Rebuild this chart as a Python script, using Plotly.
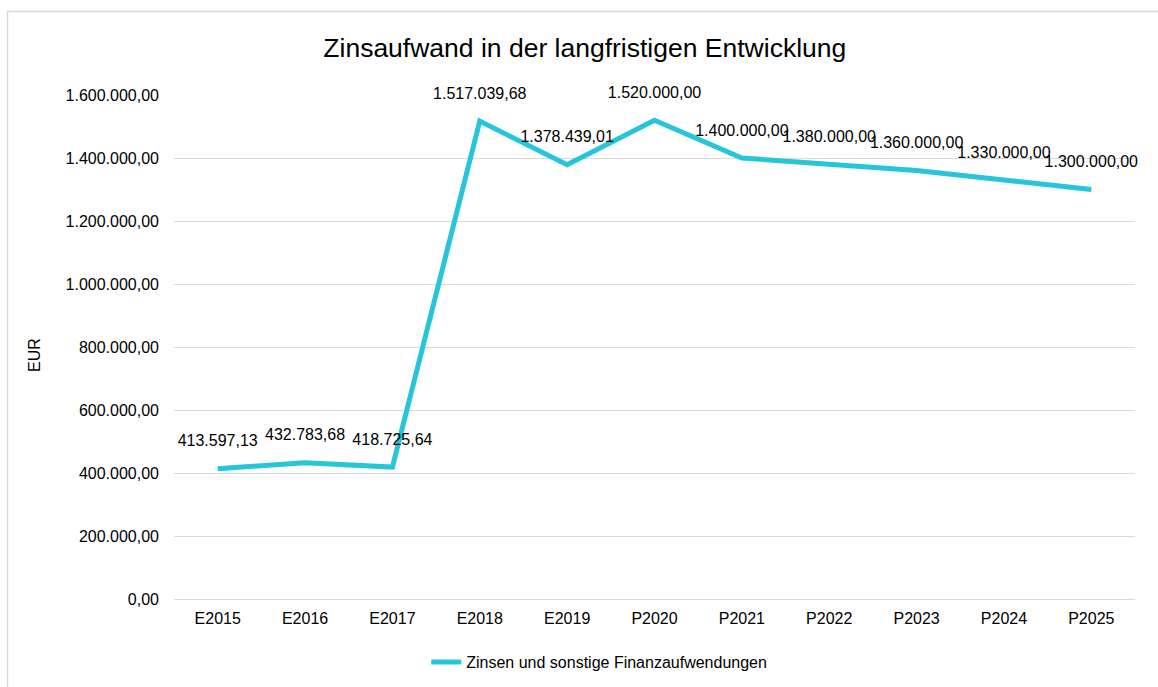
import plotly.graph_objects as go

categories = ["E2015", "E2016", "E2017", "E2018", "E2019", "P2020",
              "P2021", "P2022", "P2023", "P2024", "P2025"]
values = [413597.13, 432783.68, 418725.64, 1517039.68, 1378439.01, 1520000.00,
          1400000.00, 1380000.00, 1360000.00, 1330000.00, 1300000.00]
series_name = "Zinsen und sonstige Finanzaufwendungen"
title_text = "Zinsaufwand in der langfristigen Entwicklung"
y_title = "EUR"

W, H = 1158, 687
ml, mr, mt, mb = 174, 23, 95, 88
pw, ph = W - ml - mr, H - mt - mb

def px_x(px):
    return (px - ml) / pw

def px_y(py):
    return (H - mb - py) / ph

font_family = "Liberation Sans, Arial, sans-serif"

fig = go.Figure()
fig.add_trace(go.Scatter(
    x=categories, y=values, name=series_name,
    mode="lines+markers+text",
    line=dict(color="#27C5D9", width=5),
    marker=dict(size=28, color="rgba(0,0,0,0)"),
    texttemplate="%{y:,.2f}",
    textposition="top center",
    textfont=dict(family=font_family, size=16, color="#000000"),
    cliponaxis=False,
))

fig.update_layout(
    width=W, height=H,
    separators=",.",
    margin=dict(l=ml, r=mr, t=mt, b=mb, autoexpand=False),
    paper_bgcolor="white", plot_bgcolor="white",
    font=dict(family=font_family, size=16, color="#000000"),
    title=dict(text=title_text, x=0.505, xanchor="center", y=1 - 48 / H, yanchor="middle",
               font=dict(family=font_family, size=26.5, color="#000000")),
    showlegend=True,
    legend=dict(orientation="h", x=0.4425, xanchor="center", y=px_y(662), yanchor="middle",
                font=dict(size=16)),
    xaxis=dict(type="category", range=[-0.5, 10.5], showgrid=False, showline=False,
               ticks="", tickfont=dict(size=16), zeroline=False, ticklabelstandoff=8,
               automargin=False),
    yaxis=dict(range=[0, 1600000], dtick=200000, tickformat=",.2f",
               showgrid=True, gridcolor="#D9D9D9", gridwidth=1,
               zeroline=True, zerolinecolor="#D9D9D9", zerolinewidth=1,
               showline=False, ticks="", tickfont=dict(size=16), ticklabelstandoff=14,
               automargin=False),
    annotations=[dict(text=y_title, x=px_x(34), y=px_y(355), xref="paper", yref="paper",
                      textangle=-90, showarrow=False, font=dict(size=16),
                      xanchor="center", yanchor="middle")],
    shapes=[dict(type="rect", xref="paper", yref="paper",
                 x0=px_x(7.5), x1=px_x(W + 10), y0=px_y(H + 10), y1=px_y(11.5),
                 line=dict(color="#D9D9D9", width=1.5), fillcolor="rgba(0,0,0,0)", layer="below")],
)

fig.write_html("out.html", config={"displayModeBar": False},
               post_script="document.body.style.margin='0';document.body.style.overflow='hidden';")
